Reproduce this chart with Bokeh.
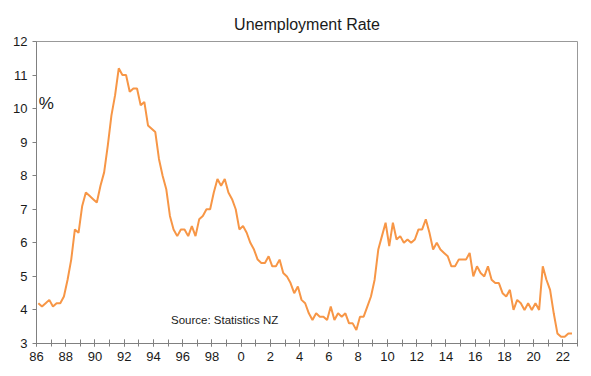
from bokeh.plotting import figure
from bokeh.models import Range1d, FixedTicker, Label
from bokeh.embed import file_html
from bokeh.resources import INLINE

# ---- data ----
start_year = 1986
unemployment_rate = [
    4.2, 4.1, 4.2, 4.3,    # 1986
    4.1, 4.2, 4.2, 4.4,    # 1987
    4.9, 5.5, 6.4, 6.3,    # 1988
    7.1, 7.5, 7.4, 7.3,    # 1989
    7.2, 7.7, 8.1, 8.9,    # 1990
    9.8, 10.4, 11.2, 11.0, # 1991
    11.0, 10.5, 10.6, 10.6,# 1992
    10.1, 10.2, 9.5, 9.4,  # 1993
    9.3, 8.5, 8.0, 7.6,    # 1994
    6.8, 6.4, 6.2, 6.4,    # 1995
    6.4, 6.2, 6.5, 6.2,    # 1996
    6.7, 6.8, 7.0, 7.0,    # 1997
    7.5, 7.9, 7.7, 7.9,    # 1998
    7.5, 7.3, 7.0, 6.4,    # 1999
    6.5, 6.3, 6.0, 5.8,    # 2000
    5.5, 5.4, 5.4, 5.6,    # 2001
    5.3, 5.3, 5.5, 5.1,    # 2002
    5.0, 4.8, 4.5, 4.7,    # 2003
    4.3, 4.2, 3.9, 3.7,    # 2004
    3.9, 3.8, 3.8, 3.7,    # 2005
    4.1, 3.7, 3.9, 3.8,    # 2006
    3.9, 3.6, 3.6, 3.4,    # 2007
    3.8, 3.8, 4.1, 4.4,    # 2008
    4.9, 5.8, 6.2, 6.6,    # 2009
    5.9, 6.6, 6.1, 6.2,    # 2010
    6.0, 6.1, 6.0, 6.1,    # 2011
    6.4, 6.4, 6.7, 6.3,    # 2012
    5.8, 6.0, 5.8, 5.7,    # 2013
    5.6, 5.3, 5.3, 5.5,    # 2014
    5.5, 5.5, 5.7, 5.0,    # 2015
    5.3, 5.1, 5.0, 5.3,    # 2016
    4.9, 4.8, 4.8, 4.5,    # 2017
    4.4, 4.6, 4.0, 4.3,    # 2018
    4.2, 4.0, 4.2, 4.0,    # 2019
    4.2, 4.0, 5.3, 4.9,    # 2020
    4.6, 3.9, 3.3, 3.2,    # 2021
    3.2, 3.3, 3.3,         # 2022
]
x_label_years = list(range(1986, 2023, 2))
x_tick_labels = [str(y % 100) for y in x_label_years]
x_minor_years = list(range(1986, 2024))
y_ticks = list(range(3, 13))

title_text = "Unemployment Rate"
unit_text = "%"
source_text = "Source: Statistics NZ"

# quarter mid-points
quarter_time = [start_year + (i + 0.5) / 4.0 for i in range(len(unemployment_rate))]

FONT = "Liberation Sans"
TEXT_COLOR = "#1a1a1a"
AXIS_COLOR = "#808080"

p = figure(
    frame_width=541, frame_height=302,
    x_range=Range1d(1986, 2023), y_range=Range1d(3, 12),
    output_backend="svg", toolbar_location=None,
    min_border_left=36, min_border_right=8, min_border_top=41, min_border_bottom=26,
    background_fill_color="white", border_fill_color="white",
)

p.title.text = title_text
p.title.align = "center"
p.title.offset = -5
p.title.standoff = 17
p.title.text_font = FONT
p.title.text_font_style = "normal"
p.title.text_font_size = "16px"
p.title.text_color = TEXT_COLOR

p.grid.visible = False
p.outline_line_color = "#999999"
p.outline_line_width = 1

p.line(x=quarter_time, y=unemployment_rate, line_color="#F79646", line_width=2)

# x axis
xa = p.xaxis[0]
xa.ticker = FixedTicker(ticks=x_label_years, minor_ticks=x_minor_years)
xa.major_label_overrides = {y: lab for y, lab in zip(x_label_years, x_tick_labels)}
xa.axis_line_color = AXIS_COLOR
xa.major_tick_line_color = AXIS_COLOR
xa.minor_tick_line_color = AXIS_COLOR
xa.major_tick_in = 4
xa.major_tick_out = 3
xa.minor_tick_in = 4
xa.minor_tick_out = 3
xa.major_label_standoff = 5
xa.major_label_text_font = FONT
xa.major_label_text_font_size = "13px"
xa.major_label_text_color = TEXT_COLOR

# y axis
ya = p.yaxis[0]
ya.ticker = FixedTicker(ticks=y_ticks)
ya.axis_line_color = AXIS_COLOR
ya.major_tick_line_color = AXIS_COLOR
ya.minor_tick_line_color = None
ya.major_tick_in = 0
ya.major_tick_out = 4
ya.major_label_standoff = 5
ya.major_label_text_font = FONT
ya.major_label_text_font_size = "13px"
ya.major_label_text_color = TEXT_COLOR

p.add_layout(Label(x=1986.15, y=10.15, text=unit_text, text_font=FONT,
                   text_font_size="17px", text_baseline="middle",
                   text_color=TEXT_COLOR))
p.add_layout(Label(x=1995.2, y=3.71, text=source_text, text_font=FONT,
                   text_font_size="11.5px", text_baseline="middle",
                   text_color=TEXT_COLOR))

open("out.html", "w").write(file_html(p, INLINE))
